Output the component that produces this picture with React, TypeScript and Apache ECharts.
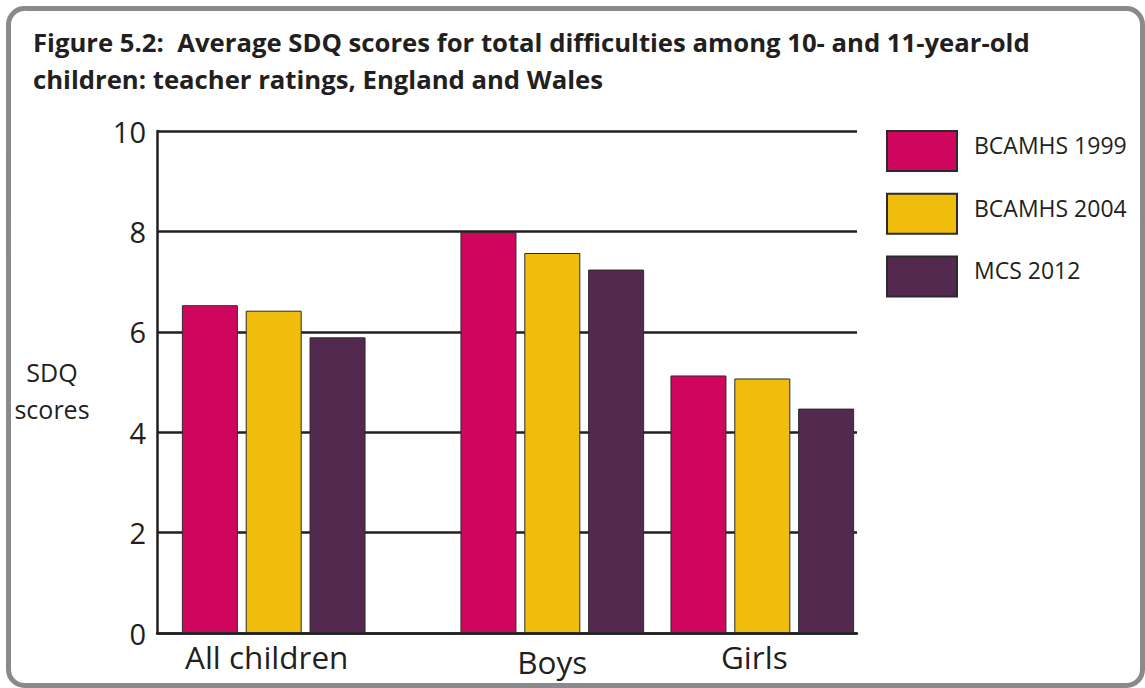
import React, { useEffect, useRef } from "react";
import * as echarts from "echarts";

// Average SDQ total difficulties scores (teacher ratings), 10- and 11-year-olds
const categories = ["All children", "Boys", "Girls"];
const seriesNames = ["BCAMHS 1999", "BCAMHS 2004", "MCS 2012"];
const bcamhs1999 = [6.53, 7.99, 5.13];
const bcamhs2004 = [6.42, 7.57, 5.07];
const mcs2012 = [5.89, 7.24, 4.47];
const yTicks = [0, 2, 4, 6, 8, 10];

const seriesValues = [bcamhs1999, bcamhs2004, mcs2012];
const seriesColors = ["#d0055e", "#f0bd0c", "#54294f"];

const FONT = "'Open Sans'";
const INK = "#231f20";

// small per-label nudges for the category captions
const labelPadding: Record<string, number[]> = {
  "All children": [0, 14, 0, 0],
  Boys: [5, 0, 0, 0],
  Girls: [0, 16, 0, 0],
};

export default function App() {
  const ref = useRef<HTMLDivElement>(null);

  useEffect(() => {
    if (!ref.current) return;
    const chart = echarts.init(ref.current, undefined, { renderer: "svg" });

    const plotTop = 131;
    const plotHeight = 502;
    const yMin = yTicks[0];
    const yMax = yTicks[yTicks.length - 1];
    const yStep = yTicks[1] - yTicks[0];

    // grid 0 draws the frame (value axis, grid lines, baseline);
    // grid 1 holds the first group, grid 2 the boys/girls groups
    const hiddenY = (gridIndex: number) => ({
      type: "value" as const,
      gridIndex,
      min: yMin,
      max: yMax,
      interval: yStep,
      show: false,
    });

    const catAxis = (gridIndex: number, data: string[]) => ({
      type: "category" as const,
      gridIndex,
      data: data.map((value) => ({
        value,
        textStyle: { padding: labelPadding[value] || 0 },
      })),
      axisLine: { show: false },
      axisTick: { show: false },
      splitLine: { show: false },
      axisLabel: {
        fontFamily: FONT,
        fontSize: 31.5,
        color: INK,
        margin: 7,
      },
    });

    const barBase = {
      type: "bar" as const,
      barWidth: 56,
      barGap: "14%",
      itemStyle: { borderColor: "#2b2b2b", borderWidth: 1 },
    };

    const series: any[] = [];
    seriesNames.forEach((name, i) => {
      series.push({
        ...barBase,
        name,
        xAxisIndex: 1,
        yAxisIndex: 1,
        data: seriesValues[i].slice(0, 1),
        itemStyle: { ...barBase.itemStyle, color: seriesColors[i] },
      });
      series.push({
        ...barBase,
        name,
        xAxisIndex: 2,
        yAxisIndex: 2,
        data: seriesValues[i].slice(1),
        itemStyle: { ...barBase.itemStyle, color: seriesColors[i] },
      });
    });

    chart.setOption({
      animation: false,
      backgroundColor: "#ffffff",
      title: {
        text:
          "Figure 5.2:  Average SDQ scores for total difficulties among 10- and 11-year-old\nchildren: teacher ratings, England and Wales",
        left: 33,
        top: 24,
        padding: 0,
        textStyle: {
          fontFamily: FONT,
          fontWeight: "bold",
          fontSize: 25.7,
          lineHeight: 37,
          color: INK,
        },
      },
      legend: {
        orient: "vertical",
        left: 886,
        top: 130,
        padding: 0,
        itemWidth: 70,
        itemHeight: 40,
        itemGap: 20.7,
        icon: "rect",
        data: seriesNames,
        formatter: (name: string) => `{t|${name}}`,
        textStyle: {
          fontFamily: FONT,
          fontSize: 23,
          color: INK,
          padding: [0, 0, 0, 12],
          rich: {
            t: {
              fontFamily: FONT,
              fontSize: 23,
              color: INK,
              padding: [0, 0, 12, 0],
            },
          },
        },
      },
      graphic: [
        {
          type: "rect",
          shape: { x: 8.5, y: 8.5, width: 1134, height: 677, r: 16 },
          style: { fill: "none", stroke: "#898a8c", lineWidth: 5 },
          silent: true,
          z: 100,
        },
        {
          type: "text",
          x: 52,
          y: 390,
          style: {
            text: "SDQ\nscores",
            fontFamily: FONT,
            fontSize: 25,
            lineHeight: 37,
            fill: INK,
            align: "center",
            verticalAlign: "middle",
          },
        },
      ],
      grid: [
        { left: 157, top: plotTop, width: 700, height: plotHeight },
        { left: 168.7, top: plotTop, width: 210, height: plotHeight },
        { left: 447.3, top: plotTop, width: 420, height: plotHeight },
      ],
      xAxis: [
        {
          type: "value",
          gridIndex: 0,
          min: 0,
          max: 1,
          axisLine: { show: true, onZero: false, lineStyle: { color: INK, width: 2.5 } },
          axisTick: { show: false },
          axisLabel: { show: false },
          splitLine: { show: false },
        },
        catAxis(1, categories.slice(0, 1)),
        catAxis(2, categories.slice(1)),
      ],
      yAxis: [
        {
          type: "value",
          gridIndex: 0,
          min: yMin,
          max: yMax,
          interval: yStep,
          axisLine: { show: true, lineStyle: { color: INK, width: 2.5 } },
          axisTick: { show: false },
          splitLine: { show: true, lineStyle: { color: INK, width: 2.5 } },
          axisLabel: {
            fontFamily: FONT,
            fontSize: 29,
            color: INK,
            margin: 11,
          },
        },
        hiddenY(1),
        hiddenY(2),
      ],
      series,
    });

    return () => chart.dispose();
  }, []);

  return (
    <div
      ref={ref}
      style={{ position: "absolute", left: 0, top: 0, width: 1145, height: 688 }}
    />
  );
}
